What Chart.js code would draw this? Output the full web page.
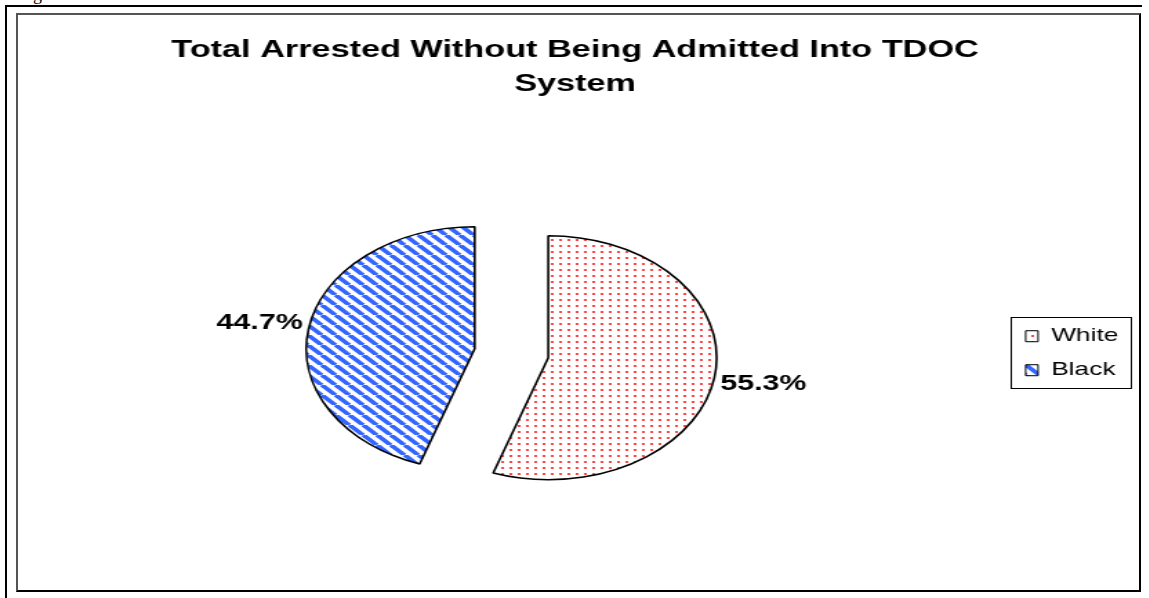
<!DOCTYPE html>
<html>
<head>
<meta charset="utf-8">
<script src="https://cdn.jsdelivr.net/npm/chart.js@4"></script>
<style>
  html, body { margin: 0; padding: 0; background: #fff; }
  body { width: 1149px; height: 598px; position: relative; overflow: hidden; }
  #caption { position: absolute; left: 18px; top: -15px; font: 18px/18px "Liberation Serif"; color: #000; }
  #ruleTop { position: absolute; left: 5px; top: 5px; width: 1137px; height: 2px; background: #000; }
  #ruleLeft { position: absolute; left: 5px; top: 5px; width: 2px; height: 593px; background: #000; }
  #frame { position: absolute; left: 16px; top: 13px; width: 1121px; height: 575px;
           border: 2px solid #000; border-top-color: #555; border-left-color: #555; overflow: hidden; }
  /* the original picture is stretched sideways, so the whole chart is too */
  #chart { transform: scaleX(1.3805); transform-origin: 0 0; }
</style>
</head>
<body>
<div id="caption">Figure</div>
<div id="ruleTop"></div>
<div id="ruleLeft"></div>
<div id="frame"><canvas id="chart" width="812" height="575"></canvas></div>

<script>
const categories = ['White', 'Black'];
const shares = [55.3, 44.7];
const titleLines = ['Total Arrested Without Being Admitted Into TDOC', 'System'];

const EXPLODE = 27;   // how far each slice is pulled out

// small dotted fill for White
const dotPattern = () => {
    const c = document.createElement('canvas');
    c.width = 6; c.height = 6;
    const g = c.getContext('2d');
    g.fillStyle = '#fff';
    g.fillRect(0, 0, 6, 6);
    g.fillStyle = '#ff1a1a';
    g.beginPath();
    g.arc(3, 3, 1.1, 0, Math.PI * 2);
    g.fill();
    return g.createPattern(c, 'repeat');
}

// diagonal stripes for Black
const stripePattern = () => {
    const s = 10;
    const c = document.createElement('canvas');
    c.width = s; c.height = s;
    const g = c.getContext('2d');
    g.fillStyle = '#fff';
    g.fillRect(0, 0, s, s);
    g.strokeStyle = '#3366ff';
    g.lineWidth = 3.7;
    for (const o of [-s, 0, s]) {
        g.beginPath();
        g.moveTo(o, 0);
        g.lineTo(o + s, s);
        g.stroke();
    }
    return g.createPattern(c, 'repeat');
}

const fills = [dotPattern(), stripePattern()];

// pull slices apart along their middle angle
const explode = {
    id: 'explode',
    afterDatasetUpdate(chart, args) {
        args.meta.data.forEach(arc => {
            const mid = (arc.startAngle + arc.endAngle) / 2;
            arc.x += Math.cos(mid) * EXPLODE;
            arc.y += Math.sin(mid) * EXPLODE;
        });
    }
}

// percentage labels outside each slice
const pctLabels = {
    id: 'pctLabels',
    afterDatasetsDraw(chart) {
        const ctx = chart.ctx;
        const meta = chart.getDatasetMeta(0);
        ctx.save();
        ctx.font = 'bold 22px "Liberation Sans"';
        ctx.fillStyle = '#000';
        ctx.textAlign = 'center';
        ctx.textBaseline = 'middle';
        meta.data.forEach((arc, i) => {
            const p = arc.getProps(['x', 'y', 'startAngle', 'endAngle', 'outerRadius'], true);
            const mid = (p.startAngle + p.endAngle) / 2;
            const d = p.outerRadius + 36;
            ctx.fillText(shares[i].toFixed(1) + '%', p.x + Math.cos(mid) * d, p.y + Math.sin(mid) * d);
        });
        ctx.restore();
    }
}

// thin box round the legend
const legendFrame = {
    id: 'legendFrame',
    afterDraw(chart) {
        const boxes = chart.legend.legendHitBoxes;
        if (!boxes || !boxes.length) return;
        const left = Math.min(...boxes.map(b => b.left)) - 11;
        const top = Math.min(...boxes.map(b => b.top)) - 10;
        const right = Math.max(...boxes.map(b => b.left + b.width)) + 9;
        const bottom = Math.max(...boxes.map(b => b.top + b.height)) + 8;
        const ctx = chart.ctx;
        ctx.save();
        ctx.strokeStyle = '#000';
        ctx.lineWidth = 1;
        ctx.strokeRect(Math.round(left) + 0.5, Math.round(top) + 0.5, Math.round(right - left), Math.round(bottom - top));
        ctx.restore();
    }
}

let data = {
    labels: categories,
    datasets: [{
        data: shares,
        backgroundColor: fills,
        borderColor: '#000',
        borderWidth: 1.6,
        radius: 122
    }]
};

let options = {
    responsive: false,
    animation: false,
    events: [],
    layout: { padding: { top: 8, right: 5, left: 0, bottom: 0 } },
    plugins: {
        title: {
            display: true,
            text: titleLines,
            color: '#000',
            font: { family: 'Liberation Sans', size: 24.8, weight: 'bold', lineHeight: 1.38 },
            padding: { top: 10, bottom: 15 }
        },
        legend: {
            position: 'right',
            fullSize: false,
            labels: {
                boxWidth: 9,
                boxHeight: 11,
                padding: 15,
                color: '#000',
                font: { family: 'Liberation Sans', size: 19 },
                generateLabels: (chart) => Chart.overrides.pie.plugins.legend.labels.generateLabels(chart)
                    .map(item => Object.assign(item, { lineWidth: 1 }))
            }
        },
        tooltip: { enabled: false }
    }
};

new Chart(document.getElementById('chart'), {
    type: 'pie',
    data: data,
    options: options,
    plugins: [explode, pctLabels, legendFrame]
});
</script>
</body>
</html>
